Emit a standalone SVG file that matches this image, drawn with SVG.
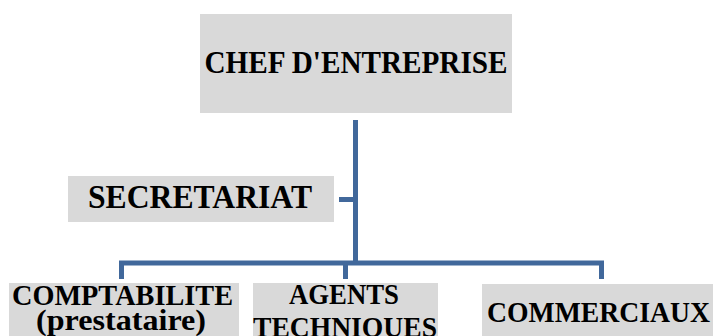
<svg xmlns="http://www.w3.org/2000/svg" width="713" height="336" viewBox="0 0 713 336">
<style>
.box{fill:#d9d9d9}
.t{font-family:"Liberation Serif","Times New Roman",serif;font-weight:bold;fill:#000;text-anchor:middle}
.c{fill:none;stroke:#41689b;stroke-width:5;stroke-linecap:butt;stroke-linejoin:miter}
</style>
<rect width="713" height="336" fill="#fff"/>
<g id="connectors">
<path class="c" d="M355.5 120 V263"/>
<path class="c" d="M339 199.5 H355.5"/>
<path class="c" d="M121.5 279 V263 H601.5 V279"/>
<path class="c" d="M345.5 263 V279"/>
</g>
<g id="chef">
<rect class="box" x="200" y="14" width="312" height="99"/>
<text class="t" x="356" y="73" font-size="31" textLength="303" lengthAdjust="spacingAndGlyphs">CHEF D'ENTREPRISE</text>
</g>
<g id="secretariat">
<rect class="box" x="68" y="176" width="266" height="46"/>
<text class="t" x="200" y="208" font-size="33" textLength="224" lengthAdjust="spacingAndGlyphs">SECRETARIAT</text>
</g>
<g id="comptabilite">
<rect class="box" x="9" y="283" width="230" height="53"/>
<text class="t" x="122.5" y="305" font-size="30" textLength="221" lengthAdjust="spacingAndGlyphs">COMPTABILITE</text>
<text class="t" x="121" y="330" font-size="30" textLength="170" lengthAdjust="spacingAndGlyphs">(prestataire)</text>
</g>
<g id="agents">
<rect class="box" x="253" y="283" width="185" height="53"/>
<text class="t" x="344" y="304" font-size="30" textLength="110" lengthAdjust="spacingAndGlyphs">AGENTS</text>
<text class="t" x="345" y="337" font-size="30" textLength="184" lengthAdjust="spacingAndGlyphs">TECHNIQUES</text>
</g>
<g id="commerciaux">
<rect class="box" x="482" y="284" width="231" height="52"/>
<text class="t" x="598.5" y="322" font-size="30" textLength="223" lengthAdjust="spacingAndGlyphs">COMMERCIAUX</text>
</g>
</svg>
